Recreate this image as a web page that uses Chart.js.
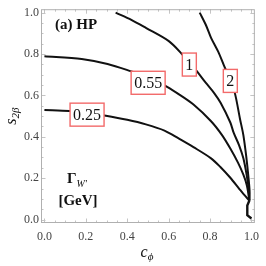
<!DOCTYPE html>
<html><head><meta charset="utf-8">
<script src="https://cdn.jsdelivr.net/npm/chart.js@4"></script>
<style>html,body{margin:0;padding:0;background:#fff}</style>
</head><body>
<canvas id="c" width="266" height="266" style="width:266px;height:266px;display:block"></canvas>
<script>
// ---- data ----
const tickValues = [0, 0.2, 0.4, 0.6, 0.8, 1.0];
const contourLevels = ['0.25', '0.55', '1', '2'];

const c025X = [0, 0.12, 0.21, 0.29, 0.40, 0.49, 0.58, 0.65, 0.72, 0.805, 0.85, 0.898, 0.94, 0.961, 0.99];
const c025Y = [0.530, 0.525, 0.516, 0.503, 0.482, 0.460, 0.430, 0.391, 0.350, 0.296, 0.254, 0.202, 0.150, 0.124, 0.092];

const c055X = [0, 0.18, 0.305, 0.42, 0.50, 0.578, 0.641, 0.72, 0.805, 0.858, 0.898, 0.935, 0.961, 0.978, 0.99];
const c055Y = [0.789, 0.776, 0.752, 0.716, 0.688, 0.650, 0.611, 0.556, 0.475, 0.408, 0.343, 0.275, 0.217, 0.165, 0.092];

const c1X = [0.344, 0.42, 0.492, 0.601, 0.664, 0.731, 0.78, 0.82, 0.851, 0.898, 0.914, 0.94, 0.961, 0.977, 0.988, 0.99];
const c1Y = [1.0, 0.965, 0.925, 0.862, 0.800, 0.723, 0.660, 0.611, 0.564, 0.469, 0.420, 0.360, 0.296, 0.215, 0.139, 0.092];

const c2X = [0.75, 0.78, 0.805, 0.84, 0.867, 0.895, 0.92, 0.945, 0.961, 0.976, 0.985, 0.991, 0.99];
const c2Y = [1.0, 0.94, 0.878, 0.81, 0.745, 0.68, 0.611, 0.485, 0.408, 0.296, 0.21, 0.139, 0.092];

const tailX = [0.99, 0.98, 0.98, 1.0];
const tailY = [0.092, 0.068, 0.021, 0.005];

function pts(xs, ys) { return xs.map((x, i) => ({x: x, y: ys[i]})); }
const curves = [pts(c025X, c025Y), pts(c055X, c055Y), pts(c1X, c1Y), pts(c2X, c2Y)];

const SERIF = "'Liberation Serif', serif";
Chart.defaults.font.family = SERIF;

const overlay = {
  id: 'overlay',
  beforeDatasetsDraw(chart) {
    const {ctx, chartArea: a, scales} = chart;
    const xs = scales.x, ys = scales.y;
    ctx.save();
    ctx.strokeStyle = '#c4c4c4';
    ctx.lineWidth = 1;
    for (let k = 0; k <= 20; k++) {
      const v = k * 0.05;
      const major = k % 4 === 0;
      const len = major ? 4.5 : 2.5;
      const px = Math.round(xs.getPixelForValue(v)) + 0.5;
      const py = Math.round(ys.getPixelForValue(v)) + 0.5;
      ctx.beginPath();
      ctx.moveTo(px, a.bottom); ctx.lineTo(px, a.bottom - len);
      ctx.moveTo(px, a.top); ctx.lineTo(px, a.top + len);
      ctx.moveTo(a.left, py); ctx.lineTo(a.left + len, py);
      ctx.moveTo(a.right, py); ctx.lineTo(a.right - len, py);
      ctx.stroke();
    }
    ctx.strokeStyle = '#b0b0b0';
    ctx.strokeRect(a.left + 0.5, a.top + 0.5, a.right - a.left - 1, a.bottom - a.top - 1);
    ctx.restore();
  },
  afterDatasetsDraw(chart, args, opts) {
    const {ctx, chartArea: a, scales} = chart;
    const xs = scales.x, ys = scales.y;
    ctx.save();
    ctx.font = '16px ' + SERIF;
    ctx.textAlign = 'center';
    ctx.textBaseline = 'middle';
    opts.labelAt.forEach((p, i) => {
      const t = contourLevels[i];
      const cx = xs.getPixelForValue(p[0]);
      const cy = ys.getPixelForValue(p[1]);
      const w = ctx.measureText(t).width + 6;
      const h = 23;
      ctx.fillStyle = '#fff';
      ctx.fillRect(cx - w / 2, cy - h / 2, w, h);
      ctx.strokeStyle = '#f26a6a';
      ctx.lineWidth = 1.4;
      ctx.strokeRect(cx - w / 2, cy - h / 2, w, h);
      ctx.fillStyle = '#111';
      ctx.fillText(t, cx, cy + 1);
    });
    ctx.textBaseline = 'alphabetic';
    ctx.textAlign = 'left';
    ctx.fillStyle = '#111';
    ctx.font = 'bold 15px ' + SERIF;
    ctx.fillText('(a) HP', 55, 29);
    ctx.font = 'bold 15px ' + SERIF;
    const gW = ctx.measureText('\u0393').width;
    ctx.font = 'italic 10px ' + SERIF;
    const wW = ctx.measureText('W\u2032').width;
    const gx = 77 - (gW + wW) / 2;
    ctx.font = 'bold 15px ' + SERIF;
    ctx.fillText('\u0393', gx, 183);
    ctx.font = 'italic 10px ' + SERIF;
    ctx.fillText('W\u2032', gx + gW, 187);
    ctx.font = 'bold 15px ' + SERIF;
    ctx.textAlign = 'center';
    ctx.fillText('[GeV]', 78, 205);
    ctx.textAlign = 'left';
    ctx.font = 'italic 16px ' + SERIF;
    const cW = ctx.measureText('c').width;
    ctx.font = 'italic 11px ' + SERIF;
    const pW = ctx.measureText('\u03D5').width;
    const tx = (a.left + a.right) / 2 - (cW + pW) / 2 - 1;
    ctx.font = 'italic 16px ' + SERIF;
    ctx.fillText('c', tx, 257);
    ctx.font = 'italic 11px ' + SERIF;
    ctx.fillText('\u03D5', tx + cW, 260);
    ctx.translate(15.5, (a.top + a.bottom) / 2);
    ctx.rotate(-Math.PI / 2);
    ctx.font = 'italic 16px ' + SERIF;
    const sW = ctx.measureText('s').width;
    ctx.font = 'italic 11px ' + SERIF;
    const bW = ctx.measureText('2\u03B2').width;
    const sx = -(sW + bW) / 2;
    ctx.font = 'italic 16px ' + SERIF;
    ctx.fillText('s', sx, 0);
    ctx.font = 'italic 11px ' + SERIF;
    ctx.fillText('2\u03B2', sx + sW, 3);
    ctx.restore();
  }
};

const datasets = curves.map((d, i) => ({
  label: contourLevels[i],
  data: d,
  showLine: true,
  borderColor: '#111',
  borderWidth: 2,
  pointRadius: 0,
  tension: 0.3,
  fill: false
}));
datasets.push({
  label: 'tail',
  data: pts(tailX, tailY),
  showLine: true,
  borderColor: '#111',
  borderWidth: 2.4,
  pointRadius: 0,
  tension: 0,
  fill: false
});

new Chart(document.getElementById('c'), {
  type: 'scatter',
  data: {datasets: datasets},
  options: {
    responsive: false,
    animation: false,
    devicePixelRatio: 1,
    layout: {padding: {top: 4, right: 4, left: 0, bottom: 0}},
    plugins: {
      legend: {display: false},
      tooltip: {enabled: false},
      overlay: {labelAt: [[0.206, 0.507], [0.501, 0.661], [0.70, 0.749], [0.898, 0.67]]}
    },
    scales: {
      x: {
        type: 'linear', min: -0.0165, max: 1.0165,
        afterBuildTicks: s => { s.ticks = tickValues.map(v => ({value: v})); },
        afterFit: s => { s.height = 43; },
        ticks: {callback: v => v.toFixed(1), font: {family: SERIF, size: 12}, color: '#444', padding: 7, maxRotation: 0, autoSkip: false},
        grid: {display: false, drawTicks: false},
        border: {display: false}
      },
      y: {
        type: 'linear', min: -0.0165, max: 1.0165,
        afterBuildTicks: s => { s.ticks = tickValues.map(v => ({value: v})); },
        afterFit: s => { s.width = 41; },
        ticks: {callback: v => v.toFixed(1), font: {family: SERIF, size: 12}, color: '#444', padding: 2, autoSkip: false},
        grid: {display: false, drawTicks: false},
        border: {display: false}
      }
    }
  },
  plugins: [overlay]
});
</script>
</body></html>
